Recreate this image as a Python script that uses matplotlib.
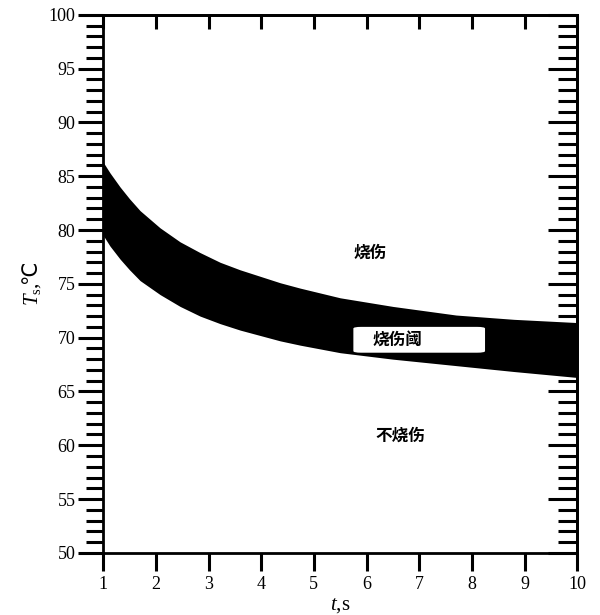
import numpy as np
import matplotlib.pyplot as plt
from matplotlib.ticker import MultipleLocator
from matplotlib.patches import FancyBboxPatch

plt.rcParams['font.family'] = ['Liberation Serif', 'DejaVu Sans']
plt.rcParams['mathtext.fontset'] = 'custom'
plt.rcParams['mathtext.it'] = 'Liberation Serif:italic'
plt.rcParams['mathtext.rm'] = 'DejaVu Sans'
plt.rcParams['mathtext.sf'] = 'Liberation Serif'

# burn threshold band
t_band = [1.0, 1.13, 1.32, 1.5, 1.70, 2.08, 2.46, 2.84, 3.22, 3.60, 3.98, 4.36, 4.74, 5.5, 6.5, 7.7, 8.8, 10.0]
T_upper = [86.3, 85.3, 84.0, 82.9, 81.8, 80.2, 78.9, 77.9, 77.0, 76.3, 75.7, 75.1, 74.6, 73.7, 72.9, 72.1, 71.7, 71.4]
T_lower = [79.5, 78.5, 77.3, 76.3, 75.3, 74.0, 72.9, 72.0, 71.3, 70.7, 70.2, 69.7, 69.3, 68.6, 68.0, 67.4, 66.85, 66.3]

region_labels = ['烧伤', '烧伤阈', '不烧伤']
cjk = ['Noto Sans CJK SC', 'DejaVu Sans']

fig = plt.figure(figsize=(6, 6.15), dpi=100)
ax = fig.add_axes([0.172, 0.101, 0.79, 0.875])

ax.fill_between(t_band, T_lower, T_upper, color='black', lw=0)

ax.set_xlim(1, 10)
ax.set_ylim(50, 100)
ax.xaxis.set_major_locator(MultipleLocator(1))
ax.yaxis.set_major_locator(MultipleLocator(5))
ax.yaxis.set_minor_locator(MultipleLocator(1))

for s in ax.spines.values():
    s.set_linewidth(2)

ax.tick_params(axis='x', which='major', direction='out', length=13, width=2.2, labelsize=13, pad=4)
ax.tick_params(axis='y', which='major', direction='out', length=18, width=2.2, labelsize=13, pad=2)
ax.tick_params(axis='y', which='minor', direction='out', length=12, width=2.2)

sec_y = ax.secondary_yaxis('right')
sec_y.yaxis.set_major_locator(MultipleLocator(5))
sec_y.yaxis.set_minor_locator(MultipleLocator(1))
sec_y.tick_params(which='major', direction='in', length=21, width=2.2, labelright=False)
sec_y.tick_params(which='minor', direction='in', length=14, width=2.2)
sec_y.spines['right'].set_linewidth(2)

sec_x = ax.secondary_xaxis('top')
sec_x.xaxis.set_major_locator(MultipleLocator(1))
sec_x.tick_params(which='major', direction='in', length=10, width=2.2, labeltop=False)
sec_x.spines['top'].set_linewidth(2)

ax.set_xlabel('$t$,s', fontsize=15, labelpad=2)
ax.set_ylabel('$T_{\\mathsf{s}}$,$\\!\\mathrm{℃}$', fontsize=15, labelpad=4)

# region labels
ax.text(6.07, 77.9, region_labels[0], family=cjk, fontsize=12, weight='bold',
        ha='center', va='center')
box = FancyBboxPatch((5.8, 68.65), 2.4, 2.3, boxstyle='round,pad=0.05,rounding_size=0.15',
                     fc='white', ec='none', zorder=3)
ax.add_patch(box)
ax.text(6.58, 69.8, region_labels[1], family=cjk, fontsize=12, weight='bold',
        ha='center', va='center', zorder=4)
ax.text(6.64, 60.9, region_labels[2], family=cjk, fontsize=12, weight='bold',
        ha='center', va='center')

fig.savefig('out.png', dpi=100)
